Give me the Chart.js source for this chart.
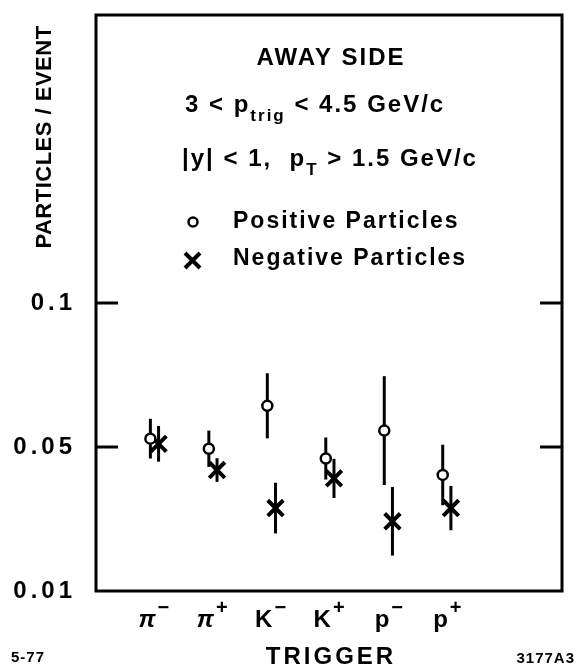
<!DOCTYPE html>
<html>
<head>
<meta charset="utf-8">
<script src="https://cdn.jsdelivr.net/npm/chart.js@4.4.0/dist/chart.umd.min.js"></script>
<style>
  html, body { margin: 0; padding: 0; background: #fff; }
  #wrap { width: 577px; height: 672px; }
</style>
</head>
<body>
<div id="wrap"><canvas id="myChart"></canvas></div>
<script>
// trigger particles (x categories)
var triggerNames = ['π', 'π', 'K', 'K', 'p', 'p'];
var triggerCharges = ['−', '+', '−', '+', '−', '+'];

// away side particles / event
var positive = [0.0529, 0.0494, 0.0643, 0.0460, 0.0557, 0.0403];
var positiveErr = [0.0069, 0.0063, 0.0113, 0.0073, 0.0189, 0.0105];
var negative = [0.0511, 0.0420, 0.0288, 0.0391, 0.0242, 0.0288];
var negativeErr = [0.0062, 0.0041, 0.0088, 0.0068, 0.0119, 0.0077];

// y axis ticks as printed on the figure
var yTicks = [0, 0.05, 0.1];
var yTickLabels = ['0.01', '0.05', '0.1'];

var FONT = '"Liberation Sans", Arial, sans-serif';

function points(values, off) {
  return values.map(function(v, i) { return { x: i + off, y: v }; });
}

// vertical error bars, drawn before the markers
var errorBars = {
  id: 'errorBars',
  beforeDatasetsDraw: function(chart) {
    var ctx = chart.ctx, xs = chart.scales.x, ys = chart.scales.y;
    var sets = [[positive, positiveErr, -0.07], [negative, negativeErr, 0.07]];
    ctx.save();
    ctx.strokeStyle = '#000';
    ctx.lineWidth = 3;
    sets.forEach(function(s) {
      s[0].forEach(function(v, i) {
        var px = xs.getPixelForValue(i + s[2]);
        ctx.beginPath();
        ctx.moveTo(px, ys.getPixelForValue(v + s[1][i]));
        ctx.lineTo(px, ys.getPixelForValue(v - s[1][i]));
        ctx.stroke();
      });
    });
    ctx.restore();
  }
};

function drawRun(ctx, parts, x, y) {
  // parts: [text, size, dy]
  parts.forEach(function(p) {
    ctx.font = 'bold ' + p[1] + 'px ' + FONT;
    ctx.fillText(p[0], x, y + p[2]);
    x += ctx.measureText(p[0]).width;
  });
}

var frameAndText = {
  id: 'frameAndText',
  beforeDraw: function(chart) {
    chart.ctx.letterSpacing = '4px';
  },
  afterDraw: function(chart) {
    var ctx = chart.ctx, a = chart.chartArea, xs = chart.scales.x, ys = chart.scales.y;
    ctx.save();
    ctx.strokeStyle = '#000';
    ctx.fillStyle = '#000';
    ctx.lineWidth = 3;
    ctx.strokeRect(a.left, a.top, a.right - a.left, a.bottom - a.top);

    // inward tick marks on both sides
    yTicks.forEach(function(v) {
      if (v === ys.min) return;
      var py = ys.getPixelForValue(v);
      ctx.beginPath();
      ctx.moveTo(a.left, py); ctx.lineTo(a.left + 22, py);
      ctx.moveTo(a.right, py); ctx.lineTo(a.right - 22, py);
      ctx.stroke();
    });

    ctx.textBaseline = 'middle';
    ctx.letterSpacing = '2px';
    ctx.textAlign = 'center';
    ctx.font = 'bold 24px ' + FONT;
    ctx.fillText('AWAY SIDE', 331, 58);

    ctx.textAlign = 'left';
    drawRun(ctx, [['3 < p', 24, 0], ['trig', 17, 11], [' < 4.5 GeV/c', 24, 0]], 185, 105);
    drawRun(ctx, [['|y| < 1,  p', 24, 0], ['T', 17, 11], [' > 1.5 GeV/c', 24, 0]], 182, 159);

    ctx.font = 'bold 23px ' + FONT;
    ctx.fillText('Positive Particles', 233, 222);
    ctx.fillText('Negative Particles', 233, 259);
    ctx.lineWidth = 2.5;
    ctx.beginPath();
    ctx.arc(193, 222, 4.5, 0, Math.PI * 2);
    ctx.stroke();
    ctx.lineWidth = 4;
    ctx.beginPath();
    ctx.moveTo(185, 253); ctx.lineTo(200, 268);
    ctx.moveTo(200, 253); ctx.lineTo(185, 268);
    ctx.stroke();

    // trigger labels with charge superscripts
    triggerNames.forEach(function(n, i) {
      var px = xs.getPixelForValue(i);
      ctx.font = (n === 'π' ? 'italic ' : '') + 'bold 24px ' + FONT;
      ctx.letterSpacing = '0px';
      var w = ctx.measureText(n).width;
      ctx.fillText(n, px - w + 1, 620);
      ctx.font = 'bold 20px ' + FONT;
      ctx.fillText(triggerCharges[i], px + 3, 608);
    });

    ctx.letterSpacing = '3px';
    ctx.textAlign = 'center';
    ctx.font = 'bold 24px ' + FONT;
    ctx.fillText('TRIGGER', 331, 657);

    ctx.letterSpacing = '1px';
    ctx.font = 'bold 15px ' + FONT;
    ctx.textAlign = 'left';
    ctx.fillText('5-77', 11, 658);
    ctx.textAlign = 'right';
    ctx.font = 'bold 15px ' + FONT;
    ctx.fillText('3177A3', 575, 659);

    ctx.translate(45, 137);
    ctx.rotate(-Math.PI / 2);
    ctx.textAlign = 'center';
    ctx.letterSpacing = '0.5px';
    ctx.font = 'bold 22px ' + FONT;
    ctx.fillText('PARTICLES / EVENT', 0, 0);
    ctx.restore();
    ctx.letterSpacing = '0px';
  }
};

var ctx = document.getElementById('myChart').getContext('2d');
var chart = new Chart(ctx, {
  type: 'scatter',
  data: {
    datasets: [{
      label: 'Positive Particles',
      data: points(positive, -0.07),
      pointStyle: 'circle',
      pointRadius: 5,
      borderWidth: 2.5,
      borderColor: '#000',
      backgroundColor: '#fff'
    }, {
      label: 'Negative Particles',
      data: points(negative, 0.07),
      pointStyle: 'crossRot',
      pointRadius: 11,
      borderWidth: 4,
      borderColor: '#000',
      backgroundColor: '#000'
    }]
  },
  options: {
    responsive: true,
    maintainAspectRatio: false,
    animation: false,
    layout: { padding: { top: 10, right: 4, left: 0, bottom: 0 } },
    plugins: { legend: { display: false }, tooltip: { enabled: false } },
    scales: {
      x: {
        type: 'linear',
        min: -1,
        max: 6.97,
        grid: { display: false },
        border: { display: false },
        ticks: { display: false },
        afterFit: function(scale) {
          scale.height = 81;
          scale.paddingLeft = 0; scale.paddingRight = 0;
          scale.paddingTop = 0; scale.paddingBottom = 0;
        }
      },
      y: {
        type: 'linear',
        min: 0,
        max: 0.2,
        grid: { display: false },
        border: { display: false },
        afterBuildTicks: function(scale) {
          scale.ticks = yTicks.map(function(v) { return { value: v }; });
        },
        ticks: {
          color: '#000',
          padding: 12,
          font: { family: FONT, size: 24, weight: 'bold' },
          callback: function(v) { return yTickLabels[yTicks.indexOf(v)]; }
        },
        afterFit: function(scale) {
          scale.width = 96;
          scale.paddingLeft = 0; scale.paddingRight = 0;
          scale.paddingTop = 0; scale.paddingBottom = 0;
        }
      }
    }
  },
  plugins: [errorBars, frameAndText]
});
</script>
</body>
</html>
